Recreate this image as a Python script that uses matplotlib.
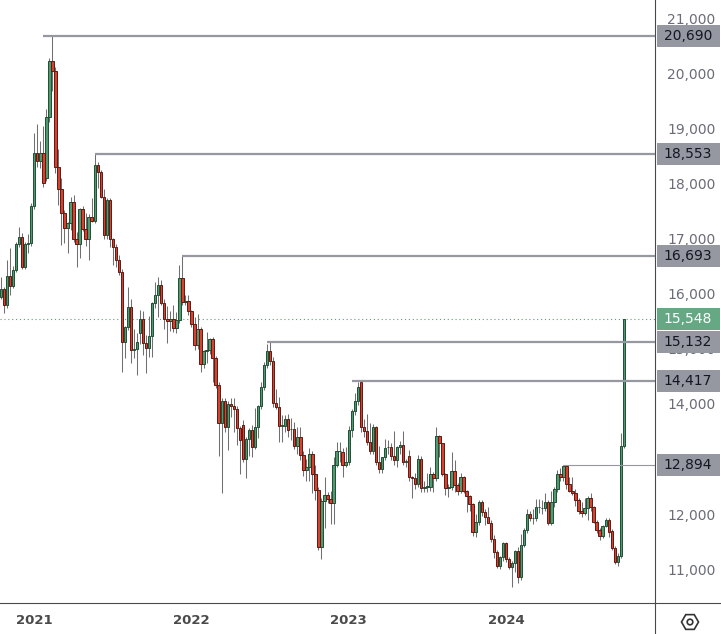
import numpy as np
import pandas as pd
import matplotlib
matplotlib.use("Agg")
import matplotlib.pyplot as plt
import matplotlib.transforms as mtransforms
from matplotlib.lines import Line2D
from matplotlib.patches import RegularPolygon, Circle, Rectangle

# weekly candles
opens = [
    15952, 16085, 15794, 16334, 16152, 16437, 16903, 17043, 16485, 16903,
    16922, 17606, 18570, 18412, 18558, 18103, 19212, 20242, 20049, 18303,
    17903, 17467, 17194, 17285, 17667, 16994, 16903, 17540, 17176, 16994,
    17394, 17334, 18340, 18212, 17770, 17067, 17703, 16994, 16848, 16617,
    16405, 15121, 15405, 15769, 14981, 15000, 15284, 15551, 15102, 15011,
    15242, 15830, 15975, 16157, 15830, 15539, 15502, 15551, 15375, 15527,
    16284, 15854, 15866, 15690, 15454, 15066, 15357, 14721, 14963, 14981,
    15175, 14830, 14345, 13648, 14054, 13576, 13994, 13969, 13903, 13557,
    13618, 12994, 13357, 13527, 13212, 13576, 13969, 14303, 14703, 14969,
    14788, 14024, 13951, 13606, 13606, 13721, 13539, 13539, 13236, 13394,
    13072, 12800, 12848, 13085, 12721, 12436, 11394, 12243, 12339, 12267,
    12194, 12885, 13139, 13121, 12891, 12939, 13521, 13867, 14048, 14406,
    13576, 13515, 13303, 13151, 13588, 12952, 12812, 13030, 13212, 13212,
    13061, 12982, 13224, 13248, 12951, 13055, 12667, 12648, 12539, 12994,
    12467, 12497, 12485, 12721, 12648, 13418, 13285, 12721, 12479, 12485,
    12788, 12521, 12418, 12679, 12424, 12327, 12182, 11667, 11849, 12218,
    12030, 11952, 11842, 11546, 11303, 11055, 11212, 11467, 11176, 11036,
    11103, 11327, 10849, 11430, 11709, 11994, 11921, 11921, 12121, 12103,
    12103, 12212, 11830, 12224, 12448, 12727, 12678, 12878, 12539, 12424,
    12387, 12254, 12054, 12012, 12103, 12297, 12121, 11860, 11709, 11606,
    11788, 11890, 11690, 11375, 11133, 11236, 13236,
]
highs = [
    16316, 16120, 16619, 16831, 16500, 16950, 17225, 17100, 16950, 17091,
    17650, 18921, 19091, 18782, 19055, 19360, 20285, 20690, 20120, 18631,
    18103, 17520, 17300, 17770, 17800, 17130, 17560, 17600, 17479, 17450,
    17740, 18553, 18400, 18250, 17900, 17750, 17750, 17020, 16900, 16700,
    16450, 15420, 16133, 15900, 15360, 15284, 15708, 15690, 15254, 15600,
    15850, 16224, 16302, 16254, 15900, 15781, 15690, 15800, 15678, 16526,
    16693, 15981, 15981, 15700, 15587, 15636, 15400, 14981, 15302, 15205,
    15220, 14880, 14400, 14100, 14100, 14054, 14100, 14100, 13960, 13600,
    13700, 13400, 13560, 13618, 13921, 13990, 14406, 14760, 15090, 15132,
    14850, 14266, 14133, 13800, 13800, 13818, 13740, 13678, 13588, 13575,
    13150, 13000, 13200, 13150, 12891, 12500, 12300, 12667, 12400, 12424,
    13030, 13309, 13315, 13200, 13212, 13600, 13900, 14194, 14406, 14417,
    13721, 13818, 13648, 13636, 13600, 13236, 13030, 13357, 13350, 13300,
    13509, 13230, 13327, 13509, 13000, 13164, 12700, 12750, 13073, 13050,
    12600, 12740, 12860, 12770, 13588, 13440, 13300, 12750, 12550, 13127,
    12982, 12560, 12740, 12700, 12440, 12350, 12200, 12000, 12254, 12250,
    12100, 12120, 11900, 11620, 11350, 11240, 11500, 11500, 11220, 11150,
    11350, 11400, 11636, 11750, 12085, 12060, 12085, 12266, 12266, 12254,
    12387, 12250, 12424, 12500, 12800, 12830, 12894, 12880, 12678, 12678,
    12450, 12300, 12218, 12284, 12320, 12375, 12150, 11900, 11750, 11800,
    11920, 11920, 11720, 11420, 11290, 13466, 15548,
]
lows = [
    15900, 15649, 15750, 15982, 16100, 16400, 16850, 16450, 16450, 16752,
    16880, 17550, 18303, 18285, 17950, 18050, 19134, 19697, 18200, 17620,
    16891, 16922, 16740, 17164, 16950, 16497, 16661, 17150, 16873, 16619,
    17300, 17285, 17922, 17750, 17000, 17000, 16850, 16526, 16496, 16350,
    14587, 14830, 15340, 14751, 14830, 14527, 15090, 14890, 14557, 14860,
    14848, 15740, 15587, 15800, 15357, 15115, 15333, 15315, 15296, 15480,
    15800, 15800, 15620, 15400, 14981, 15000, 14587, 14650, 14739, 14900,
    14406, 14285, 13054, 12388, 13497, 13163, 13770, 13497, 13254, 12721,
    12951, 12648, 13054, 13042, 13180, 13375, 13900, 14254, 14650, 14700,
    13951, 13900, 13315, 13315, 13500, 13400, 13345, 13180, 13100, 12980,
    12700, 12600, 12600, 12376, 12254, 11346, 11176, 11740, 12200, 11812,
    11818, 12860, 12952, 12679, 12850, 12900, 13406, 13800, 13980, 13500,
    13400, 13250, 13100, 13100, 12900, 12750, 12740, 12980, 13100, 12990,
    12900, 12848, 13100, 12900, 12860, 12600, 12285, 12450, 12500, 12400,
    12400, 12400, 12420, 12400, 12600, 13042, 12700, 12345, 12315, 12440,
    12400, 12350, 12380, 12380, 12042, 12060, 11600, 11576, 11800, 11960,
    11800, 11830, 11500, 11200, 11010, 10994, 11150, 11120, 10994, 10673,
    10950, 10739, 10800, 11400, 11650, 11870, 11810, 11880, 12010, 12000,
    12050, 11800, 11800, 12120, 12400, 12600, 12600, 12450, 12400, 12350,
    12150, 12000, 11950, 11980, 11890, 12050, 11840, 11650, 11530, 11560,
    11760, 11580, 11340, 11100, 11054, 11200, 13200,
]
closes = [
    16085, 15794, 16334, 16152, 16437, 16903, 17043, 16485, 16903, 16922,
    17606, 18570, 18412, 18558, 18012, 19212, 20242, 20049, 18303, 17903,
    17467, 17194, 17285, 17667, 16994, 16903, 17540, 17176, 16994, 17394,
    17334, 18340, 18212, 17770, 17067, 17703, 16994, 16848, 16617, 16405,
    15121, 15405, 15769, 14981, 15000, 15133, 15551, 15102, 15011, 15242,
    15830, 15975, 16157, 15830, 15539, 15502, 15551, 15375, 15527, 16284,
    15854, 15866, 15690, 15454, 15066, 15357, 14721, 14963, 14981, 15175,
    14830, 14345, 13648, 14054, 13576, 13994, 13969, 13903, 13557, 13345,
    12994, 13357, 13527, 13212, 13576, 13969, 14303, 14703, 14969, 14788,
    14024, 13951, 13606, 13606, 13721, 13527, 13539, 13236, 13394, 13072,
    12800, 12848, 13085, 12721, 12436, 11394, 12243, 12339, 12267, 12194,
    12885, 13139, 13139, 12891, 12939, 13521, 13867, 14048, 14303, 13576,
    13515, 13303, 13151, 13588, 12952, 12812, 13030, 13194, 13212, 13061,
    12982, 13224, 13248, 12951, 12951, 12667, 12648, 12539, 12994, 12467,
    12497, 12497, 12721, 12648, 13418, 13285, 12721, 12479, 12485, 12788,
    12521, 12418, 12679, 12424, 12327, 12182, 11667, 11849, 12218, 12030,
    11952, 11842, 11546, 11303, 11055, 11212, 11467, 11176, 11036, 11103,
    11327, 10849, 11430, 11709, 11994, 11921, 11921, 12121, 12121, 12103,
    12212, 11830, 12224, 12448, 12727, 12678, 12878, 12539, 12424, 12387,
    12254, 12054, 12012, 12103, 12297, 12121, 11860, 11709, 11606, 11788,
    11890, 11679, 11375, 11133, 11236, 13236, 15548,
]
last_week = "2024-09-30"

# horizontal levels (price, bar where the ray starts)
levels = [20690, 18553, 16693, 15132, 14417, 12894]
level_start = [14, 31, 60, 88, 116, 186]

years = [2021, 2022, 2023, 2024]
price_ticks = list(range(11000, 22000, 1000))

# colours
UP_FILL, UP_EDGE = "#4f9b70", "#1f4f35"
DN_FILL, DN_EDGE = "#d8412f", "#5e1a12"
WICK = "#707070"
LEVEL = "#9598a1"
LAST = "#66a883"
AXIS = "#4a4a4a"

o = np.array(opens, float)
h = np.array(highs, float)
l = np.array(lows, float)
c = np.array(closes, float)
x = np.arange(len(c))
dates = pd.date_range(end=last_week, periods=len(c), freq="W-MON")

fig = plt.figure(figsize=(7.21, 6.34), dpi=100)
ax = fig.add_axes([0, 31 / 634, 655 / 721, 603 / 634])

# wicks then bodies
ax.vlines(x, l, h, color=WICK, lw=0.75, zorder=2)
up = c >= o
bottom = np.minimum(o, c)
height = np.maximum(np.abs(c - o), 15)
ax.bar(x[up], height[up], bottom=bottom[up], width=0.8,
       color=UP_FILL, edgecolor=UP_EDGE, linewidth=0.7, zorder=3)
ax.bar(x[~up], height[~up], bottom=bottom[~up], width=0.8,
       color=DN_FILL, edgecolor=DN_EDGE, linewidth=0.7, zorder=3)

ymin, ymax = 10382, 21345
ax.set_xlim(-0.33, 216.3)
ax.set_ylim(ymin, ymax)

# level rays
for lvl, start in zip(levels, level_start):
    lw = 0.8 if lvl == levels[-1] else 1.6
    ax.hlines(lvl, start, 216.3, color=LEVEL, lw=lw, zorder=4)

# last price dotted line
ax.axhline(c[-1], color="#5d9f7c", lw=0.8, ls=(0, (1, 2.5)), zorder=1)

# axes styling
for side in ["left", "top"]:
    ax.spines[side].set_visible(False)
for side in ["right", "bottom"]:
    ax.spines[side].set_color(AXIS)
    ax.spines[side].set_linewidth(0.8)

ax.yaxis.tick_right()
ax.set_yticks(price_ticks)
ax.set_yticklabels([f"{t:,}" for t in price_ticks])
ax.tick_params(axis="y", length=0, pad=8.6, labelsize=10, labelcolor="#6a6d78")

year_pos = [np.searchsorted(dates, pd.Timestamp(f"{y}-01-01")) for y in years]
ax.set_xticks(year_pos)
ax.set_xticklabels([str(y) for y in years], fontweight="bold")
ax.tick_params(axis="x", length=0, pad=8, labelsize=9.5, labelcolor="#4a4a4a")

# price boxes on the axis (box 63 x 22 px, starting just right of the axis line)
trans = mtransforms.blended_transform_factory(ax.transAxes, ax.transData)
px_per_price = 603 / (ymax - ymin)
box_h = 22 / px_per_price
box_x0 = 1 + 1.5 / 655
box_w = 63 / 655


def price_box(value, face, text_color):
    ax.add_patch(Rectangle((box_x0, value - box_h / 2), box_w, box_h, transform=trans,
                           facecolor=face, edgecolor="none", clip_on=False, zorder=9))
    ax.text(box_x0 + box_w / 2, value, f"{value:,}", transform=trans, ha="center",
            va="center", fontsize=10, color=text_color, zorder=10, clip_on=False)


for lvl in levels:
    price_box(lvl, LEVEL, "#131722")
price_box(int(c[-1]), LAST, "white")

# separator lines in the axis area
fig.add_artist(Line2D([655 / 721, 1], [31 / 634, 31 / 634], transform=fig.transFigure,
                      color=AXIS, lw=0.8))
fig.add_artist(Line2D([655 / 721, 655 / 721], [0, 31 / 634], transform=fig.transFigure,
                      color=AXIS, lw=0.8))

# settings icon
ax_icon = fig.add_axes([680 / 721, 2 / 634, 20 / 721, 20 / 634])
ax_icon.set_xlim(-10, 10)
ax_icon.set_ylim(-10, 10)
ax_icon.axis("off")
ax_icon.add_patch(RegularPolygon((0, 0), 6, radius=8.5, orientation=np.pi / 6,
                                 fill=False, ec="#333333", lw=1.2))
ax_icon.add_patch(Circle((0, 0), 2.8, fill=False, ec="#333333", lw=1.2))

fig.savefig("out.png", dpi=100)
